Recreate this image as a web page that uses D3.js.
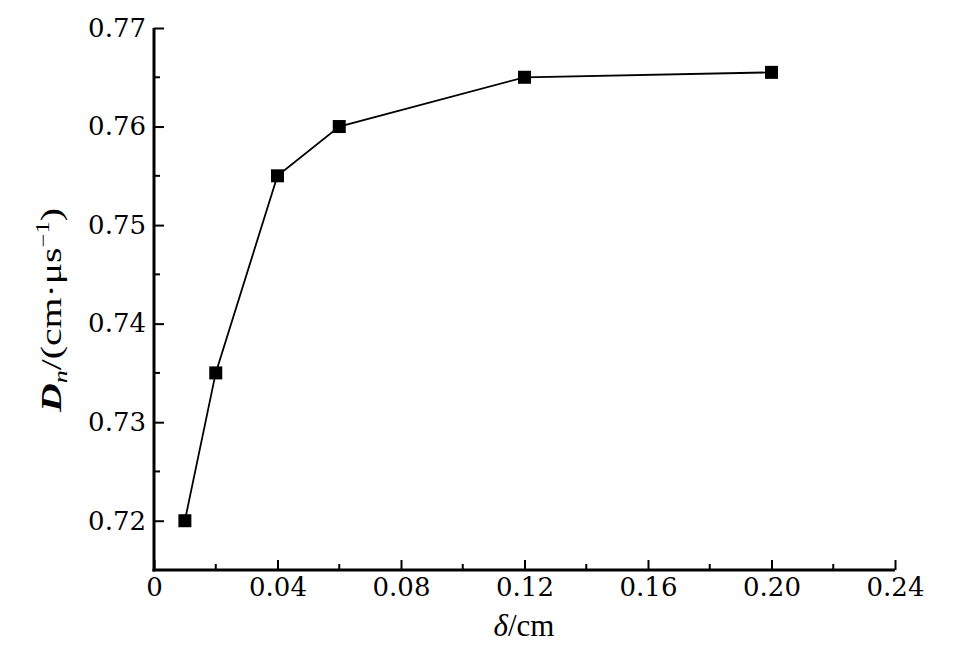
<!DOCTYPE html>
<html><head><meta charset="utf-8">
<script src="https://cdn.jsdelivr.net/npm/d3@7"></script>
<style>body{margin:0;background:#fff}svg{display:block}</style>
</head><body>
<script>
const deltas = [0.01, 0.02, 0.04, 0.06, 0.12, 0.20];
const dnValues = [0.720, 0.735, 0.755, 0.760, 0.765, 0.7655];
const xTicks = [0, 0.04, 0.08, 0.12, 0.16, 0.20, 0.24];
const xTickLabels = ["0", "0.04", "0.08", "0.12", "0.16", "0.20", "0.24"];
const yTicks = [0.72, 0.73, 0.74, 0.75, 0.76, 0.77];
const yTickLabels = ["0.72", "0.73", "0.74", "0.75", "0.76", "0.77"];

const W = 962, H = 651;
const m = {left: 154, right: 895, top: 28, bottom: 570};
const svg = d3.select("body").append("svg").attr("width", W).attr("height", H);
const x = d3.scaleLinear().domain([0, 0.24]).range([m.left, m.right]);
const y = d3.scaleLinear().domain([0.715, 0.77]).range([m.bottom, m.top]);
const font = "'DejaVu Serif', serif";

// minor ticks
const xMinor = d3.range(0.02, 0.24, 0.04);
const yMinor = d3.range(0.715, 0.77, 0.01);
svg.append("g").selectAll("line").data(xMinor).join("line")
  .attr("x1", d => x(d)).attr("x2", d => x(d))
  .attr("y1", m.bottom).attr("y2", m.bottom - 6)
  .attr("stroke", "#000").attr("stroke-width", 2);
svg.append("g").selectAll("line").data(yMinor).join("line")
  .attr("y1", d => y(d)).attr("y2", d => y(d))
  .attr("x1", m.left).attr("x2", m.left + 6)
  .attr("stroke", "#000").attr("stroke-width", 2);

// x axis
const xAxis = d3.axisBottom(x).tickValues(xTicks).tickFormat((d, i) => xTickLabels[i])
  .tickSizeInner(-10).tickSizeOuter(0).tickPadding(8);
const gx = svg.append("g").attr("transform", `translate(0,${m.bottom})`).call(xAxis);
gx.select(".domain").attr("stroke-width", 3).attr("d", `M${m.left - 1.5},0H${m.right}`);
gx.selectAll(".tick line").attr("stroke-width", 2);
gx.selectAll("text").attr("font-family", font).attr("font-size", 26).attr("fill", "#000");

// y axis
const yAxis = d3.axisLeft(y).tickValues(yTicks).tickFormat((d, i) => yTickLabels[i])
  .tickSizeInner(-10).tickSizeOuter(0).tickPadding(8);
const gy = svg.append("g").attr("transform", `translate(${m.left},0)`).call(yAxis);
gy.select(".domain").attr("stroke-width", 3).attr("d", `M0,${m.bottom + 1.5}V${m.top}`);
gy.selectAll(".tick line").attr("stroke-width", 2);
gy.selectAll("text").attr("font-family", font).attr("font-size", 26).attr("fill", "#000");

// line
const pts = deltas.map((d, i) => [d, dnValues[i]]);
svg.append("path").datum(pts)
  .attr("d", d3.line().x(d => x(d[0])).y(d => y(d[1])))
  .attr("fill", "none").attr("stroke", "#000").attr("stroke-width", 1.8);

// markers
const s = 13;
svg.append("g").selectAll("rect").data(pts).join("rect")
  .attr("x", d => x(d[0]) - s / 2).attr("y", d => y(d[1]) - s / 2)
  .attr("width", s).attr("height", s).attr("fill", "#000");

// x label
const xl = svg.append("text").attr("x", 524).attr("y", 636)
  .attr("text-anchor", "middle").attr("font-family", "'Liberation Serif', serif")
  .attr("font-size", 31).attr("fill", "#000");
xl.append("tspan").attr("font-style", "italic").text("δ");
xl.append("tspan").text("/cm");

// y label
const yl = svg.append("text")
  .attr("transform", `translate(61,310) rotate(-90)`)
  .attr("x", -102)
  .attr("font-family", "'Liberation Serif', serif")
  .attr("font-size", 29).attr("fill", "#000")
  .attr("textLength", 204).attr("lengthAdjust", "spacingAndGlyphs");
yl.append("tspan").attr("font-style", "italic").attr("font-weight", "bold").text("D");
yl.append("tspan").attr("font-style", "italic").attr("font-size", 19).attr("dy", 6).text("n");
yl.append("tspan").attr("dy", -6).text("/(cm·μs");
yl.append("tspan").attr("font-size", 18).attr("dy", -12).text("−1");
yl.append("tspan").attr("dy", 12).text(")");
</script>
</body></html>
